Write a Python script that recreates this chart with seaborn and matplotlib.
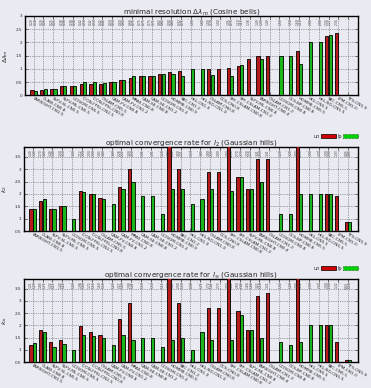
import numpy as np
import pandas as pd
import matplotlib
matplotlib.use("Agg")
import matplotlib.pyplot as plt
from matplotlib.patches import Patch
from matplotlib.ticker import FuncFormatter, MultipleLocator
import seaborn as sns

nan = np.nan

schemes = [
    "FARSIGHT-CN1.5", "CLAW-CN0.8", "SLFV-SL-CN5.5", "SLFV-ML-CN5.5", "UCISOM-CN5.5",
    "ICON-FFSL-CN2.5", "ICON-FFSL-CN0.8", "CSLAM-CN5.5", "CAM-FV-CN0.8", "CAM-FV-CN1.2",
    "MPAS-CN0.8", "CAM-SE-CN0.8", "CAM-SE-CN1.2", "UCISOM-CN1.2", "HOMME-CN0.9",
    "SBC-CN1.2", "HEL-CN1.0", "HEL-ND-CN1.0", "CSLAM-CN0.8", "CCS-CN0.8",
    "SFF-CSLAM-CN0.8", "SFF-CSLAM-CN1.2", "SLFV-ML-CN0.8", "FARSIGHT-CN0.4", "CSLAM-CN1.2",
    "UCISOM-CN0.8", "CCS-BP-CN0.8", "HOMME-CN5.5", "HEL-CN5.5", "HEL-ND-CN5.5",
    "SBC-CN5.5", "LPM-CN1.0", "TTS-CN5.9",
]

# minimal resolution (Cosine bells)
res_un = [0.20, 0.20, 0.25, 0.375, 0.375, 0.42, 0.42, 0.42, 0.50, 0.60, 0.66, 0.75, 0.75,
          0.82, 0.90, 0.92, nan, nan, 1.00, 1.00, 1.05, 1.10, 1.38, 1.49, 1.49, nan, nan,
          1.69, nan, nan, 2.24, 2.34, nan]
res_lp = [0.18, 0.26, 0.25, 0.375, 0.375, 0.50, 0.50, 0.46, 0.50, 0.60, 0.75, 0.75, 0.75,
          0.82, 0.80, 0.75, 1.00, 1.00, 0.79, nan, 0.75, 1.15, nan, 1.39, nan, 1.50, 1.50,
          1.19, 2.00, 2.00, 2.27, nan, nan]

# optimal convergence rate, l2 (Gaussian hills)
k2_un = [1.40, 1.70, 1.40, 1.50, nan, 2.12, 2.00, 1.83, nan, 2.28, 3.00, nan, nan, nan,
         4.00, 3.00, nan, nan, 2.89, 2.89, 4.00, 2.70, 2.20, 3.41, 3.41, nan, nan, 4.00,
         nan, nan, 2.00, 1.93, 0.85]
k2_lp = [1.40, 1.80, 1.40, 1.50, 1.00, 2.09, 2.00, 1.80, 1.60, 2.22, 2.50, 1.91, 1.91, 1.20,
         2.21, 2.21, 1.59, 1.80, 2.20, nan, 2.10, 2.70, 2.20, 2.50, nan, 1.20, 1.20, 2.00,
         2.00, 2.00, 2.00, nan, 0.85]

# optimal convergence rate, l_inf (Gaussian hills)
kinf_un = [1.21, 1.80, 1.32, 1.40, nan, 1.98, 1.72, 1.60, nan, 2.27, 2.90, nan, nan, nan,
           4.00, 2.90, nan, nan, 2.73, 2.73, 4.00, 2.60, 1.80, 3.22, 3.31, nan, nan, 4.00,
           nan, nan, 2.00, 1.32, 0.60]
kinf_lp = [1.29, 1.71, 1.11, 1.22, 1.00, 1.60, 1.55, 1.50, 1.20, 1.60, 1.41, 1.50, 1.50, 1.11,
           1.41, 1.50, 0.98, 1.71, 1.41, nan, 1.41, 2.44, 1.80, 1.50, nan, 1.32, 1.20, 1.32,
           2.00, 2.00, 2.00, nan, 0.58]

variants = ["un", "lp"]
BG = "#EAEAF2"
RED = "#d00000"
GREEN = "#00d000"

sns.set_style("white", {"axes.facecolor": BG, "figure.facecolor": BG})
plt.rcParams["font.family"] = ["DejaVu Sans"]

fig = plt.figure(figsize=(3.71, 3.88), dpi=100)
fig.patch.set_facecolor(BG)

panels = [
    (res_un, res_lp, "minimal resolution $\\Delta\\lambda_m$ (Cosine bells)",
     "$\\Delta\\lambda_m$", (0.0, 3.0), 0.0, [0.0674, 0.7539, 0.8976, 0.2049], False),
    (k2_un, k2_lp, "optimal convergence rate for $l_2$ (Gaussian hills)",
     "$k_2$", (0.5, 3.9), 0.5, [0.0647, 0.4046, 0.9003, 0.2165], True),
    (kinf_un, kinf_lp, "optimal convergence rate for $l_\\infty$ (Gaussian hills)",
     "$k_\\infty$", (0.5, 3.9), 0.5, [0.0647, 0.0670, 0.9003, 0.2139], True),
]

fmt = FuncFormatter(lambda v, p: f"{v:g}")

for un, lp, title, ylab, ylim, base, rect, show_leg in panels:
    ax = fig.add_axes(rect)
    df = pd.DataFrame({
        "scheme": schemes * 2,
        "variant": ["un"] * len(schemes) + ["lp"] * len(schemes),
        "value": list(un) + list(lp),
    })
    df["height"] = df["value"] - base
    sns.barplot(data=df, x="scheme", y="height", hue="variant", order=schemes,
                hue_order=variants, palette={"un": RED, "lp": GREEN}, width=0.68,
                gap=0.05, errorbar=None, ax=ax, bottom=base, linewidth=0.6,
                edgecolor="black", legend=False, zorder=3)
    for p in ax.patches:
        if matplotlib.colors.to_hex(p.get_facecolor()) == GREEN:
            p.set_edgecolor("#0b4d0b")
            p.set_linestyle((0, (1, 1)))
    ax.set_xlim(-0.88, 33.0)
    ax.set_ylim(*ylim)
    ax.yaxis.set_major_locator(MultipleLocator(0.5))
    ax.yaxis.set_major_formatter(fmt)
    ax.set_facecolor(BG)
    ax.grid(True, axis="both", linestyle=(0, (2, 2)), color="0.35", linewidth=0.4, zorder=0)
    ax.set_axisbelow(True)
    for s in ax.spines.values():
        s.set_visible(True)
        s.set_color("black")
        s.set_linewidth(1.0)
    ax.tick_params(axis="y", labelsize=3, length=2, width=0.4, direction="in",
                   left=True, right=True, pad=2)
    ax.tick_params(axis="x", labelsize=3.1, length=2, width=0.4, direction="in",
                   bottom=True, top=True, pad=1)
    ax.set_xticks(range(len(schemes)))
    ax.set_xticklabels(schemes, rotation=-30, ha="left", va="top", rotation_mode="anchor")
    ax.set_xlabel("")
    ax.set_ylabel(ylab, fontsize=4.5, labelpad=4)
    ax.set_title(title, fontsize=5.2, pad=1.5)

    # small value notes along the top of each category
    for i, (a, b) in enumerate(zip(un, lp)):
        for off, v in ((-0.17, a), (0.17, b)):
            txt = "-" if np.isnan(v) else f"{v:.2f}"
            ax.text(i + off, ylim[1] - 0.03 * (ylim[1] - ylim[0]), txt, rotation=90,
                    fontsize=2.2, color="0.25", ha="center", va="top", zorder=4)

    if show_leg:
        handles = [Patch(facecolor=RED, edgecolor="black", linewidth=0.5, label="un"),
                   Patch(facecolor=GREEN, edgecolor="#0b4d0b", linewidth=0.5,
                         linestyle=(0, (1, 1)), label="lp")]
        ax.legend(handles=handles, loc="lower right", bbox_to_anchor=(1.0, 1.1),
                  ncol=2, frameon=False, fontsize=3.5, markerfirst=False,
                  handlelength=3.0, handleheight=0.7, columnspacing=0.4,
                  handletextpad=0.3, borderaxespad=0.0, borderpad=0.0)

fig.savefig("out.png", dpi=100, facecolor=BG)
